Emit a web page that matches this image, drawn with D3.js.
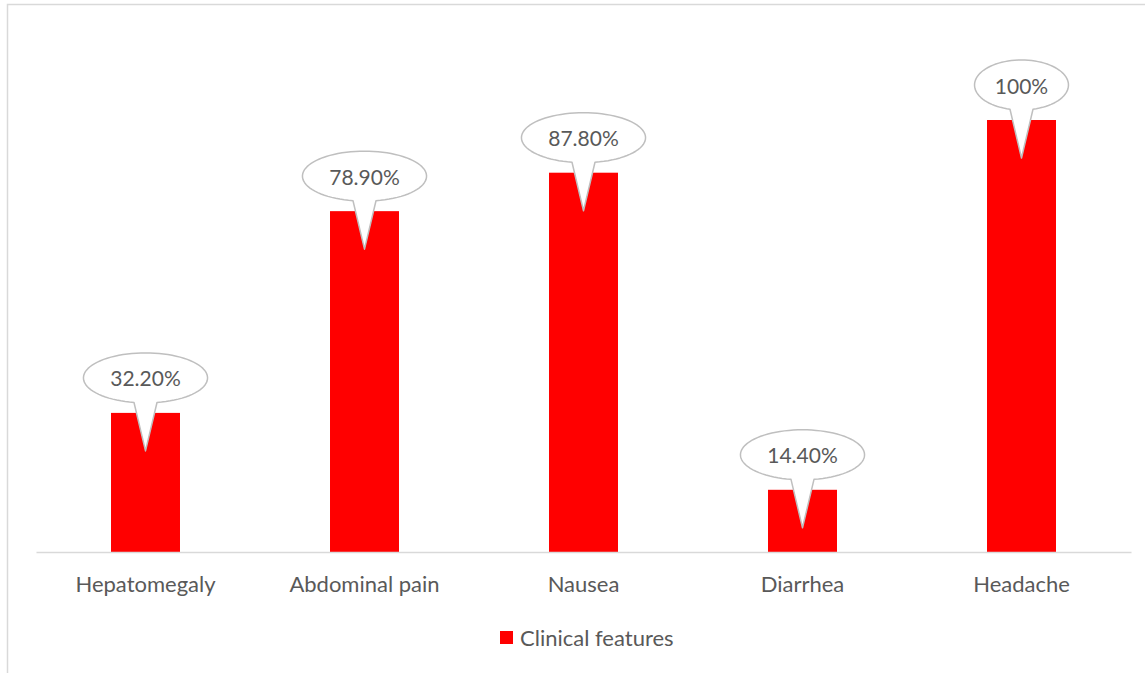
<!DOCTYPE html>
<html>
<head>
<meta charset="utf-8">
<script src="https://cdn.jsdelivr.net/npm/d3@7"></script>
<style>
  body { margin: 0; background: #fff; }
  svg { display: block; font-family: Lato, "Open Sans", sans-serif; }
</style>
</head>
<body>
<svg id="chart" width="1145" height="673"></svg>
<script>
// chart data
var categories = ["Hepatomegaly", "Abdominal pain", "Nausea", "Diarrhea", "Headache"];
var values = [0.322, 0.789, 0.878, 0.144, 1.0];
var valueLabels = ["32.20%", "78.90%", "87.80%", "14.40%", "100%"];
var seriesName = "Clinical features";

var svg = d3.select("#chart");

// outer frame of the chart area (runs past the right/bottom edge)
svg.append("rect")
  .attr("x", 7.5).attr("y", 4.5)
  .attr("width", 1160).attr("height", 700)
  .attr("fill", "#fff")
  .attr("stroke", "#d9d9d9")
  .attr("stroke-width", 1.5);

var x = d3.scaleBand()
  .domain(categories)
  .range([36, 1131])
  .paddingInner(0.685)
  .paddingOuter(0.3425);

var y = d3.scaleLinear()
  .domain([0, 1.2])
  .range([552, 33.6]);

// bars
svg.selectAll(".bar")
  .data(values)
  .enter()
  .append("rect")
    .attr("class", "bar")
    .attr("x", (d, i) => x(categories[i]))
    .attr("y", d => y(d))
    .attr("width", x.bandwidth())
    .attr("height", d => y(0) - y(d))
    .attr("fill", "#ff0000");

// category axis
var xAxis = svg.append("g")
  .attr("transform", "translate(0," + y(0) + ")")
  .call(d3.axisBottom(x).tickSize(0).tickPadding(24));
xAxis.select(".domain")
  .attr("stroke", "#d9d9d9")
  .attr("stroke-width", 1.5);
xAxis.selectAll("text")
  .attr("fill", "#595959")
  .style("font-size", "22px")
  .style("font-family", "Lato, 'Open Sans', sans-serif");

// callout data labels
var callouts = svg.selectAll(".callout")
  .data(values)
  .enter()
  .append("g")
    .attr("class", "callout");

callouts.each(function(d, i) {
  var g = d3.select(this);
  var cx = x(categories[i]) + x.bandwidth() / 2;
  var top = y(d);
  var cy = top - 35;
  var tipY = top + 38;

  var path = g.append("path");
  var label = g.append("text")
    .attr("x", cx)
    .attr("y", cy)
    .attr("text-anchor", "middle")
    .attr("dominant-baseline", "central")
    .attr("fill", "#595959")
    .style("font-size", "21px")
    .text(valueLabels[i]);

  var tw = label.node().getComputedTextLength();
  var rx = tw * 0.88;
  var ry = 25;
  var half = 11.5;
  var by = cy + ry * Math.sqrt(1 - (half * half) / (rx * rx));

  var p = d3.path();
  p.moveTo(cx + half, by);
  // go round the ellipse the long way, then down to the pointer tip
  var a0 = Math.atan2((by - cy) / ry, half / rx);
  var a1 = Math.atan2((by - cy) / ry, -half / rx);
  var steps = 80;
  for (var k = 1; k <= steps; k++) {
    var t = a0 - (a0 + (2 * Math.PI - a1)) * k / steps;
    p.lineTo(cx + rx * Math.cos(t), cy + ry * Math.sin(t));
  }
  p.lineTo(cx, tipY);
  p.closePath();

  path.attr("d", p.toString())
    .attr("fill", "#fff")
    .attr("stroke", "#bfbfbf")
    .attr("stroke-width", 1.5)
    .attr("stroke-linejoin", "round");
});

// legend
var legend = svg.append("g").attr("transform", "translate(500,631)");
legend.append("rect")
  .attr("width", 13).attr("height", 13)
  .attr("fill", "#ff0000");
legend.append("text")
  .attr("x", 20).attr("y", 6.5)
  .attr("dominant-baseline", "central")
  .attr("fill", "#595959")
  .style("font-size", "22px")
  .text(seriesName);
</script>
</body>
</html>
